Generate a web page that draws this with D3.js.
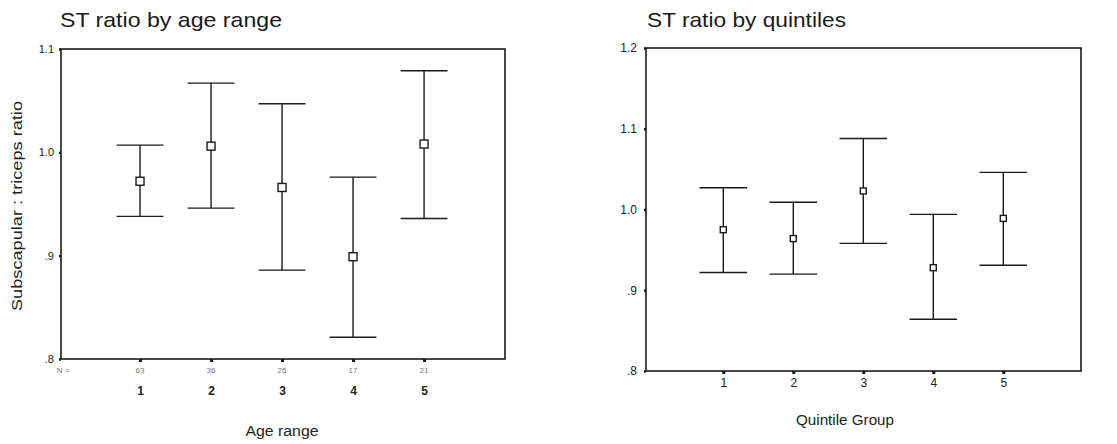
<!DOCTYPE html>
<html>
<head>
<meta charset="utf-8">
<script src="https://cdn.jsdelivr.net/npm/d3@7"></script>
<style>
  html, body { margin: 0; padding: 0; background: #fff; }
  svg { display: block; font-family: "Liberation Sans", Arial, sans-serif; }
</style>
</head>
<body>
<svg id="chart" width="1117" height="444"></svg>
<script>
// Age-range panel: mean and 95% CI of the subscapular:triceps ratio
const ageGroups = [1, 2, 3, 4, 5];
const ageN = [63, 36, 26, 17, 21];
const ageMean = [0.972, 1.006, 0.966, 0.899, 1.008];
const ageLower = [0.938, 0.946, 0.886, 0.821, 0.936];
const ageUpper = [1.007, 1.067, 1.047, 0.976, 1.079];
const ageTicks = [0.8, 0.9, 1.0, 1.1];
const ageTickLabels = [".8", ".9", "1.0", "1.1"];

// Quintile panel
const quintGroups = [1, 2, 3, 4, 5];
const quintMean = [0.975, 0.964, 1.023, 0.928, 0.989];
const quintLower = [0.922, 0.920, 0.958, 0.864, 0.931];
const quintUpper = [1.027, 1.009, 1.088, 0.994, 1.046];
const quintTicks = [0.8, 0.9, 1.0, 1.1, 1.2];
const quintTickLabels = [".8", ".9", "1.0", "1.1", "1.2"];

const svg = d3.select("#chart");
const ink = "#1a1a1a";
const FONT = "Liberation Sans, Arial, sans-serif";

function panel(opts) {
  const g = svg.append("g");
  const x = d3.scaleLinear().domain(opts.xDomain).range([opts.left, opts.right]);
  const y = d3.scaleLinear().domain(opts.yDomain).range([opts.bottom, opts.top]);

  // title
  g.append("text")
    .attr("x", opts.titleX).attr("y", 27)
    .attr("font-size", 21).attr("fill", ink)
    .attr("textLength", opts.titleLen).attr("lengthAdjust", "spacingAndGlyphs")
    .text(opts.title);

  // frame
  g.append("rect")
    .attr("x", opts.left).attr("y", opts.top)
    .attr("width", opts.right - opts.left).attr("height", opts.bottom - opts.top)
    .attr("fill", "none").attr("stroke", ink).attr("stroke-width", 1.6);

  // y axis
  const yAxis = d3.axisLeft(y)
    .tickValues(opts.yTicks)
    .tickFormat((d, i) => opts.yTickLabels[i])
    .tickSize(2).tickPadding(opts.yTickPad);
  const ya = g.append("g").attr("transform", `translate(${opts.left},0)`).call(yAxis);
  ya.select(".domain").remove();
  ya.selectAll(".tick line").attr("stroke", ink).attr("stroke-width", 2.4);
  ya.selectAll(".tick text").attr("font-size", opts.yTickSize).attr("fill", "#222")
    .attr("font-family", FONT);

  // x axis
  const xAxis = d3.axisBottom(x)
    .tickValues(opts.groups)
    .tickFormat(d => d)
    .tickSize(3).tickPadding(opts.xTickPad);
  const xa = g.append("g").attr("transform", `translate(0,${opts.bottom})`).call(xAxis);
  xa.select(".domain").remove();
  xa.selectAll(".tick line").attr("stroke", ink).attr("stroke-width", 3);
  xa.selectAll(".tick text").attr("font-size", 12).attr("font-weight", opts.xBold ? "bold" : "normal")
    .attr("fill", "#222").attr("font-family", FONT);

  // N counts row
  if (opts.counts) {
    g.append("text")
      .attr("x", opts.left + 2).attr("y", opts.bottom + 14)
      .attr("font-size", 8).attr("fill", "#777").attr("text-anchor", "middle")
      .text("N =");
    g.selectAll(".ncount").data(opts.groups).enter().append("text")
      .attr("x", d => x(d)).attr("y", opts.bottom + 14)
      .attr("font-size", 8).attr("fill", "#777").attr("text-anchor", "middle")
      .text((d, i) => opts.counts[i]);
  }

  // axis titles
  g.append("text")
    .attr("x", opts.xTitleX).attr("y", opts.xTitleY)
    .attr("font-size", 14).attr("fill", "#222").attr("text-anchor", "middle")
    .attr("textLength", opts.xTitleLen).attr("lengthAdjust", "spacingAndGlyphs")
    .text(opts.xTitle);
  if (opts.yTitle) {
    g.append("text")
      .attr("transform", `translate(${opts.yTitleX},${(opts.top + opts.bottom) / 2 + 2}) rotate(-90)`)
      .attr("font-size", 14).attr("fill", "#222").attr("text-anchor", "middle")
      .attr("textLength", 210).attr("lengthAdjust", "spacingAndGlyphs")
      .text(opts.yTitle);
  }

  // error bars: whisker, two caps, and a hollow square at the mean
  const capHalf = opts.capHalf;
  const bars = g.selectAll(".bar").data(opts.groups).enter().append("g");
  bars.append("line")
    .attr("x1", d => x(d)).attr("x2", d => x(d))
    .attr("y1", (d, i) => y(opts.upper[i])).attr("y2", (d, i) => y(opts.lower[i]))
    .attr("stroke", ink).attr("stroke-width", 1.4);
  bars.append("line")
    .attr("x1", d => x(d - capHalf)).attr("x2", d => x(d + capHalf))
    .attr("y1", (d, i) => y(opts.upper[i])).attr("y2", (d, i) => y(opts.upper[i]))
    .attr("stroke", ink).attr("stroke-width", 1.4);
  bars.append("line")
    .attr("x1", d => x(d - capHalf)).attr("x2", d => x(d + capHalf))
    .attr("y1", (d, i) => y(opts.lower[i])).attr("y2", (d, i) => y(opts.lower[i]))
    .attr("stroke", ink).attr("stroke-width", 1.4);
  const s = opts.marker;
  bars.append("rect")
    .attr("x", d => x(d) - s / 2)
    .attr("y", (d, i) => y(opts.mean[i]) - s / 2)
    .attr("width", s).attr("height", s)
    .attr("fill", "#fff").attr("stroke", ink).attr("stroke-width", 1.4);
}

panel({
  title: "ST ratio by age range", titleX: 60, titleLen: 222,
  left: 61, right: 505, top: 49, bottom: 359,
  xDomain: [-0.113, 6.14], yDomain: [0.8, 1.1],
  yTicks: ageTicks, yTickLabels: ageTickLabels, yTickSize: 11, yTickPad: 5,
  groups: ageGroups, mean: ageMean, lower: ageLower, upper: ageUpper,
  counts: ageN, xTickPad: 24, xBold: true,
  xTitle: "Age range", xTitleX: 282, xTitleY: 436, xTitleLen: 73,
  yTitle: "Subscapular : triceps ratio", yTitleX: 22,
  capHalf: 0.33, marker: 8
});

panel({
  title: "ST ratio by quintiles", titleX: 647, titleLen: 199,
  left: 646, right: 1081, top: 48, bottom: 371,
  xDomain: [-0.104, 6.11], yDomain: [0.8, 1.2],
  yTicks: quintTicks, yTickLabels: quintTickLabels, yTickSize: 12, yTickPad: 7,
  groups: quintGroups, mean: quintMean, lower: quintLower, upper: quintUpper,
  counts: null, xTickPad: 4, xBold: false,
  xTitle: "Quintile Group", xTitleX: 845, xTitleY: 425, xTitleLen: 98,
  yTitle: null,
  capHalf: 0.34, marker: 6
});
</script>
</body>
</html>
